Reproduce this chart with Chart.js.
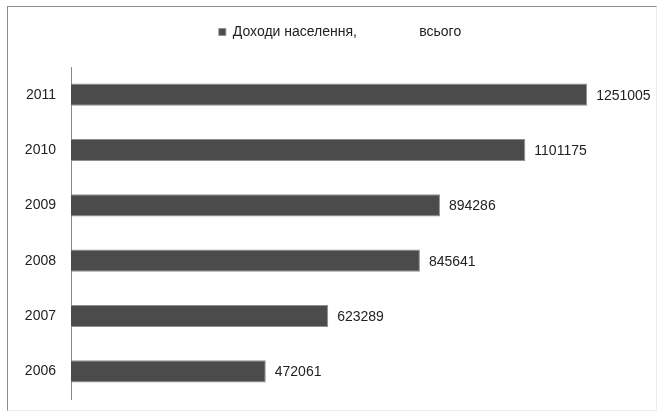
<!DOCTYPE html>
<html>
<head>
<meta charset="utf-8">
<script src="https://cdn.jsdelivr.net/npm/chart.js@4.4.1/dist/chart.umd.min.js"></script>
<style>
  html, body { margin: 0; padding: 0; background: #ffffff; }
  #wrap { position: relative; width: 661px; height: 415px; overflow: hidden; }
  #frame { position: absolute; left: 7px; top: 6px; width: 650px; height: 405px;
           border-left: 1px solid #8c8c8c; border-top: 1px solid #8c8c8c;
           border-right: 1px solid #ececec; border-bottom: 1px solid #ececec;
           box-sizing: border-box; pointer-events: none; }
  canvas { position: absolute; left: 0; top: 0; }
</style>
</head>
<body>
<div id="wrap">
  <canvas id="c" width="661" height="415"></canvas>
  <div id="frame"></div>
</div>
<script>
const categories = ['2006', '2007', '2008', '2009', '2010', '2011'];
const incomeValues = [472061, 623289, 845641, 894286, 1101175, 1251005];
const seriesLabel = 'Доходи населення,                всього';

const FONT = '"Liberation Sans", Arial, sans-serif';

const valueLabels = {
  id: 'valueLabels',
  afterDatasetsDraw(chart) {
    const ctx = chart.ctx;
    const meta = chart.getDatasetMeta(0);
    const data = chart.data.datasets[0].data;
    ctx.save();
    ctx.font = '14px ' + FONT;
    ctx.fillStyle = '#222222';
    ctx.textAlign = 'left';
    ctx.textBaseline = 'middle';
    meta.data.forEach((bar, i) => {
      ctx.fillText(String(data[i]), bar.x + 9, bar.y + 1);
    });
    ctx.restore();
  }
};

new Chart(document.getElementById('c'), {
  type: 'bar',
  data: {
    labels: categories,
    datasets: [{
      label: seriesLabel,
      data: incomeValues,
      backgroundColor: '#4b4b4b',
      borderColor: '#8f8f8f',
      borderWidth: 1,
      barPercentage: 0.8,
      categoryPercentage: 0.5
    }]
  },
  options: {
    indexAxis: 'y',
    responsive: false,
    animation: false,
    devicePixelRatio: 1,
    layout: { padding: { left: 19, right: 0, top: 12, bottom: 16 } },
    plugins: {
      legend: {
        position: 'top',
        labels: {
          boxWidth: 7,
          boxHeight: 7,
          padding: 13,
          color: '#222222',
          font: { family: FONT, size: 14 }
        }
      },
      tooltip: { enabled: false }
    },
    scales: {
      x: {
        position: 'top',
        min: 0,
        max: 1430000,
        grid: { display: false },
        border: { display: false },
        ticks: { display: false },
        afterFit(scale) { scale.height = 18; }
      },
      y: {
        reverse: true,
        grid: { display: false, drawTicks: false },
        border: { display: true, color: '#888888', width: 1 },
        ticks: {
          padding: 15,
          color: '#222222',
          font: { family: FONT, size: 14 }
        },
        afterFit(scale) {
          scale.width = 52;
          scale.paddingTop = 0;
          scale.paddingBottom = 0;
        }
      }
    }
  },
  plugins: [valueLabels]
});
</script>
</body>
</html>
